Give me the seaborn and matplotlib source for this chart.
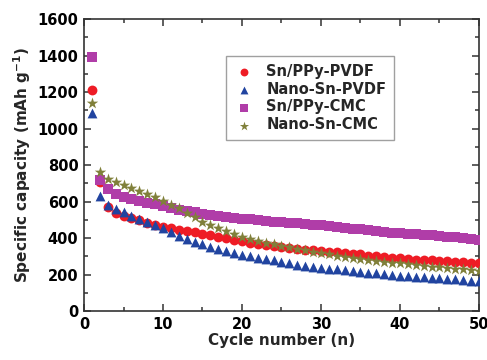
import numpy as np
import pandas as pd
import matplotlib
matplotlib.use("Agg")
import matplotlib.pyplot as plt
import seaborn as sns
from matplotlib.ticker import MultipleLocator

cycles = list(range(1, 51))

sn_ppy_pvdf = [1211, 709, 571, 535, 522, 508, 497, 483, 471, 462,
               453, 445, 437, 431, 424, 416, 408, 400, 391, 383,
               375, 367, 363, 358, 353, 347, 342, 336, 332, 329,
               325, 321, 318, 314, 310, 304, 299, 295, 291, 288,
               284, 281, 279, 277, 274, 272, 270, 268, 266, 263]

nano_sn_pvdf = [1083, 632, 581, 557, 541, 522, 504, 489, 471, 453,
                431, 413, 396, 380, 366, 353, 341, 330, 320, 308,
                300, 292, 285, 278, 268, 262, 255, 248, 243, 238,
                233, 228, 223, 219, 214, 210, 206, 202, 198, 194,
                191, 188, 185, 182, 179, 176, 173, 170, 167, 164]

sn_ppy_cmc = [1393, 718, 668, 639, 626, 614, 603, 592, 585, 574,
              566, 556, 550, 541, 533, 527, 522, 516, 512, 507,
              503, 497, 493, 489, 486, 484, 480, 477, 473, 470,
              466, 462, 457, 452, 448, 442, 437, 433, 430, 427,
              423, 420, 418, 415, 411, 407, 404, 400, 396, 389]

nano_sn_cmc = [1141, 760, 723, 705, 690, 672, 659, 641, 623, 603,
               583, 563, 540, 514, 490, 472, 454, 436, 421, 408,
               396, 386, 375, 366, 358, 350, 342, 334, 326, 318,
               311, 304, 298, 292, 286, 281, 276, 271, 266, 261,
               257, 252, 248, 244, 240, 236, 232, 228, 224, 219]

labels = ["Sn/PPy-PVDF", "Nano-Sn-PVDF", "Sn/PPy-CMC", "Nano-Sn-CMC"]
series = [sn_ppy_pvdf, nano_sn_pvdf, sn_ppy_cmc, nano_sn_cmc]
colors = {"Sn/PPy-PVDF": "#ee1c25", "Nano-Sn-PVDF": "#2144a0",
          "Sn/PPy-CMC": "#b03da8", "Nano-Sn-CMC": "#80803a"}
markers = {"Sn/PPy-PVDF": "o", "Nano-Sn-PVDF": "^",
           "Sn/PPy-CMC": "s", "Nano-Sn-CMC": "*"}
sizes = {"Sn/PPy-PVDF": 50, "Nano-Sn-PVDF": 50, "Sn/PPy-CMC": 42, "Nano-Sn-CMC": 75}

sns.set_style("ticks")
plt.rcParams['font.family'] = ['DejaVu Sans']
plt.rcParams['font.weight'] = 'bold'
plt.rcParams['mathtext.default'] = 'bf'

fig = plt.figure(figsize=(4.87, 3.60), dpi=100)
ax = fig.add_axes([0.1725, 0.136, 0.811, 0.811])

for lab, vals in zip(labels, series):
    df = pd.DataFrame({"cycle": cycles, "cap": vals})
    sns.scatterplot(data=df, x="cycle", y="cap", ax=ax, color=colors[lab],
                    marker=markers[lab], s=sizes[lab], linewidth=0,
                    label=lab, zorder=3)

ax.set_xlim(0, 50)
ax.set_ylim(0, 1600)
ax.xaxis.set_major_locator(MultipleLocator(10))
ax.xaxis.set_minor_locator(MultipleLocator(5))
ax.yaxis.set_major_locator(MultipleLocator(200))
ax.yaxis.set_minor_locator(MultipleLocator(100))
ax.tick_params(which="both", direction="in", top=True, right=True,
               width=1.1, colors="#333333", labelcolor="black")
ax.tick_params(which="major", length=5, labelsize=10.5, pad=4)
ax.tick_params(which="minor", length=3)
for sp in ax.spines.values():
    sp.set_linewidth(1.2)
    sp.set_color("#333333")
    sp.set_visible(True)

ax.set_xlabel("Cycle number (n)", fontsize=11, fontweight="bold", labelpad=1)
ax.set_ylabel("Specific capacity (mAh g$^{-1}$)", fontsize=11,
              fontweight="bold", labelpad=3)

leg = ax.legend(loc="upper left", bbox_to_anchor=(0.36, 0.875),
                frameon=True, fancybox=False, edgecolor="#888888",
                prop={"weight": "bold", "size": 10.5},
                handletextpad=0.9, borderpad=0.55, labelspacing=0.2,
                handlelength=1.3, borderaxespad=0, markerscale=0.8)
leg.get_frame().set_linewidth(1.0)

fig.savefig("out.png", dpi=100)
